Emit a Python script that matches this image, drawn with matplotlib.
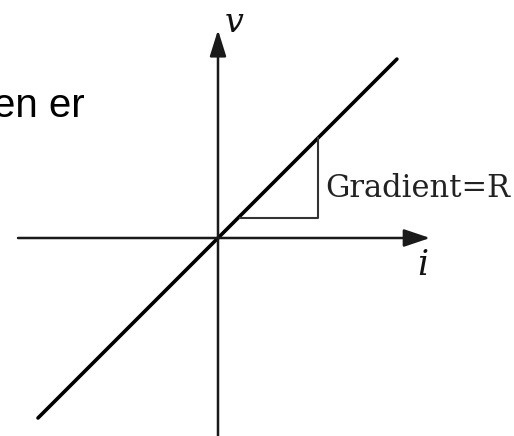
import matplotlib
matplotlib.use("Agg")
import matplotlib.pyplot as plt

# Ohm's law sketch: v = R * i
R = 1.0
i_vals = [-1.0, 0.994]
v_vals = [R * x for x in i_vals]

# gradient triangle corners (i, v)
tri_i = [0.122, 0.556, 0.556]
tri_v = [0.111, 0.111, 0.556]

# axis extents
i_axis = [-1.111, 1.178]
v_axis = [-1.10, 1.156]

gradient_label = "Gradient=R"
v_label = "v"
i_label = "i"
side_text = "en er"

fig = plt.figure(figsize=(5.14, 4.36), dpi=100)
ax = fig.add_axes([0, 0, 1, 1])
ax.set_xlim(-218 / 180, 296 / 180)
ax.set_ylim(-198 / 180, 238 / 180)
ax.axis('off')

axis_col = '#1a1a1a'
# horizontal axis with arrow
ax.annotate('', xy=(i_axis[1], 0), xytext=(i_axis[0], 0),
            arrowprops=dict(arrowstyle='-|>,head_length=0.8,head_width=0.27',
                            mutation_scale=20, lw=1.8, color=axis_col,
                            shrinkA=0, shrinkB=0))
# vertical axis with arrow
ax.annotate('', xy=(0, v_axis[1]), xytext=(0, v_axis[0]),
            arrowprops=dict(arrowstyle='-|>,head_length=0.8,head_width=0.25',
                            mutation_scale=20, lw=1.8, color=axis_col,
                            shrinkA=0, shrinkB=0))

# the line
ax.plot(i_vals, v_vals, color='black', lw=2.6, solid_capstyle='round')

# gradient triangle
ax.plot(tri_i, tri_v, color='#333333', lw=1.5)

ax.text(0.594, 0.228, gradient_label, family='DejaVu Serif', fontsize=22,
        color='#222222', ha='left', va='baseline')
ax.text(0.039, 1.144, v_label, family='DejaVu Serif', style='italic',
        fontsize=24, color='#111111', ha='left', va='baseline')
ax.text(1.106, -0.206, i_label, family='DejaVu Serif', style='italic',
        fontsize=25, color='#111111', ha='left', va='baseline')
ax.text(-1.25, 0.672, side_text, family='Liberation Sans', fontsize=29,
        color='black', ha='left', va='baseline')

plt.savefig('out.png', dpi=100)
